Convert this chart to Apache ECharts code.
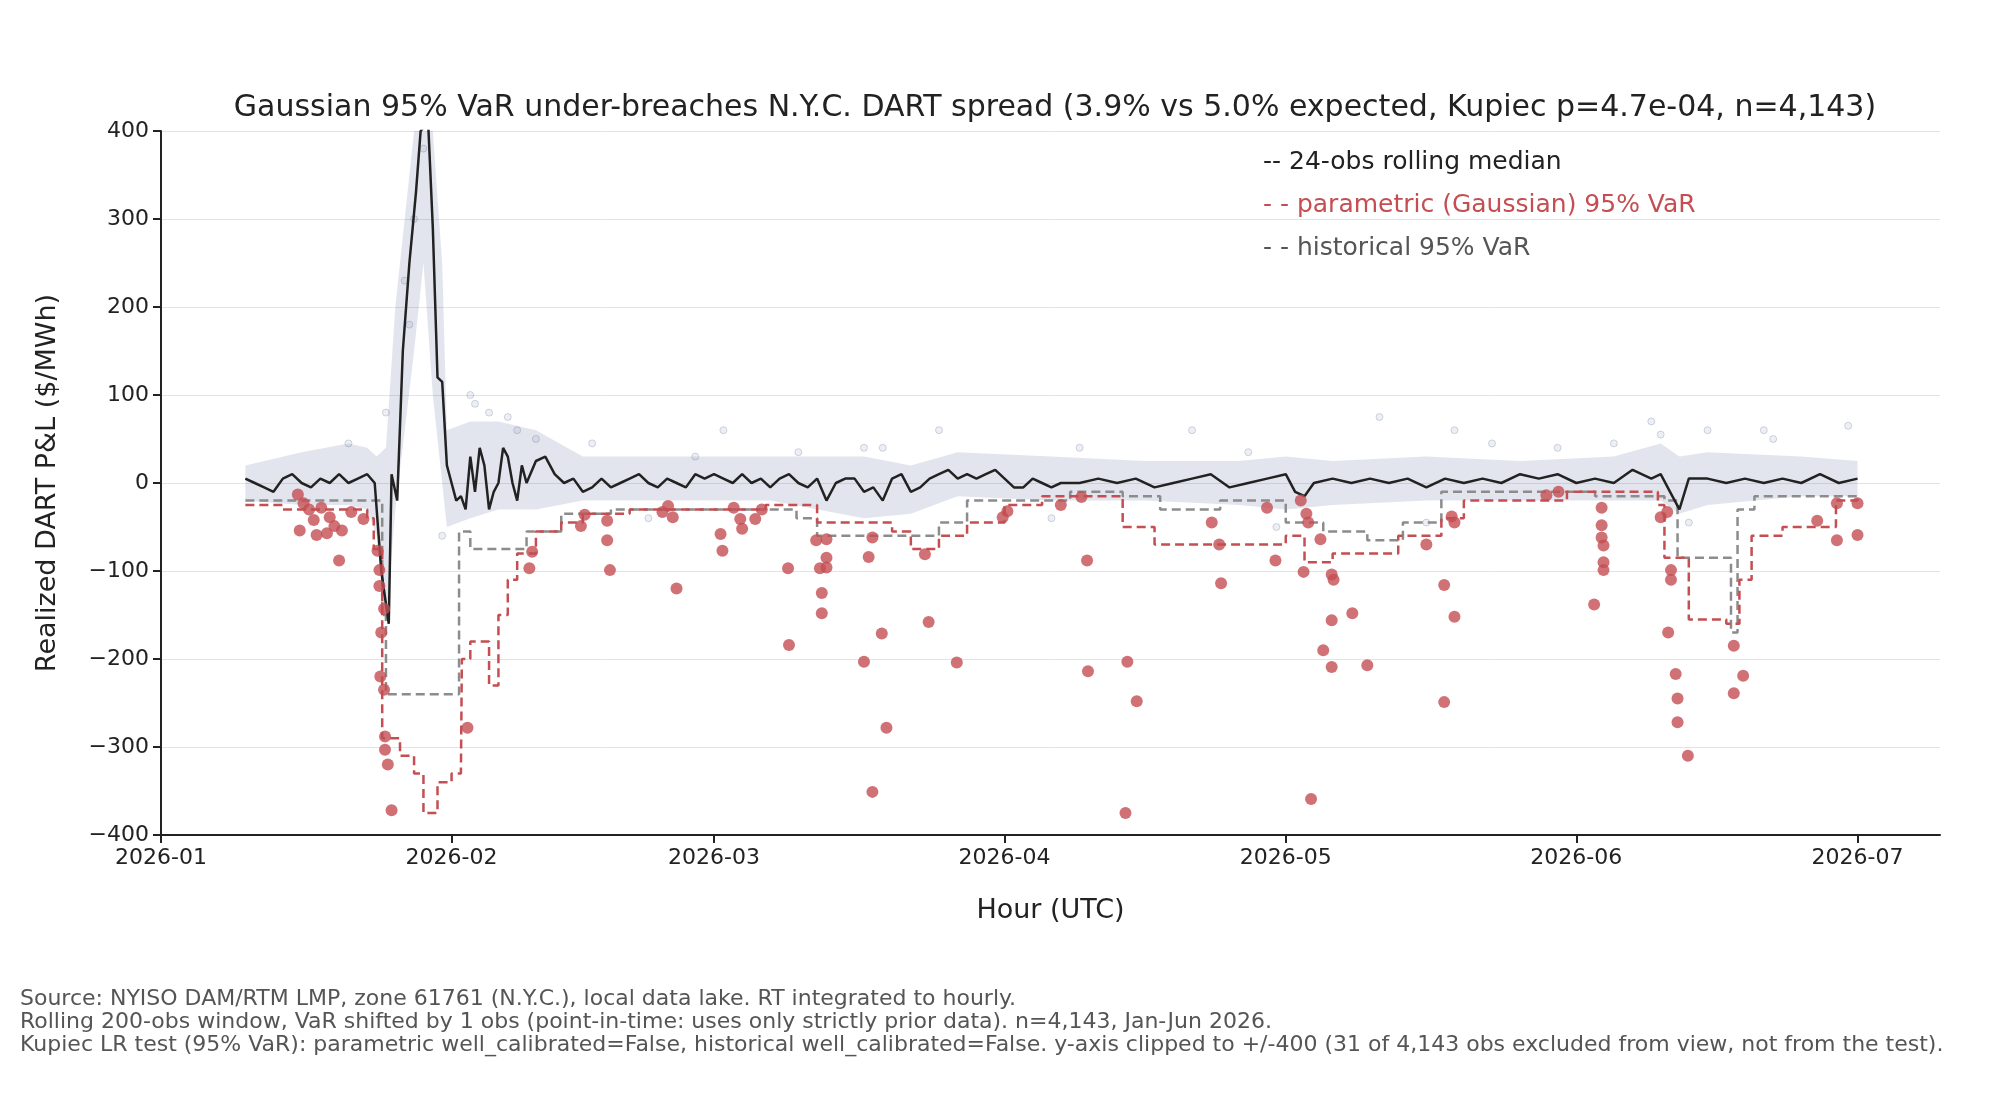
<!DOCTYPE html>
<html>
<head>
<meta charset="utf-8">
<script src="https://cdn.jsdelivr.net/npm/echarts@6/dist/echarts.min.js"></script>
<style>html,body{margin:0;padding:0;background:#fff}#main{width:2000px;height:1100px}</style>
</head>
<body>
<div id="main"></div>
<script>
// days since 2026-01-01 (UTC), values in $/MWh
var medianPts = [[9,5],[10,0],[11,-5],[12,-10],[13,5],[14,10],[15,0],[16,-5],[17,5],[18,0],[19,10],[20,0],[21,5],[22,10],[22.8,0],[23.5,-100],[24.3,-160],[24.6,10],[25.2,-20],[25.8,150],[26.5,250],[27.2,330],[27.7,400],[28.5,410],[29,290],[29.5,120],[30,115],[30.5,20],[31,0],[31.5,-20],[32,-15],[32.5,-30],[33,30],[33.5,-10],[34,40],[34.5,20],[35,-30],[35.5,-10],[36,0],[36.5,40],[37,30],[37.5,0],[38,-20],[38.5,20],[39,0],[40,25],[41,30],[42,10],[43,0],[44,5],[45,-10],[46,-5],[47,5],[48,-5],[49,0],[50,5],[51,10],[52,0],[53,-5],[54,5],[55,0],[56,-5],[57,10],[58,5],[59,10],[60,5],[61,0],[62,10],[63,0],[64,5],[65,-5],[66,5],[67,10],[68,0],[69,-5],[70,5],[71,-20],[72,0],[73,5],[74,5],[75,-10],[76,-5],[77,-20],[78,5],[79,10],[80,-10],[81,-5],[82,5],[83,10],[84,15],[85,5],[86,10],[87,5],[88,10],[89,15],[90,5],[91,-5],[92,-5],[93,5],[94,0],[95,-5],[96,0],[98,0],[100,5],[102,0],[104,5],[106,-5],[108,0],[110,5],[112,10],[114,-5],[116,0],[118,5],[120,10],[121,-10],[122,-15],[123,0],[125,5],[127,0],[129,5],[131,0],[133,5],[135,-5],[137,5],[139,0],[141,5],[143,0],[145,10],[147,5],[149,10],[151,0],[153,5],[155,0],[157,15],[159,5],[160,10],[161,-10],[162,-30],[163,5],[165,5],[167,0],[169,5],[171,0],[173,5],[175,0],[177,10],[179,0],[181,5]];

var paramVaR = [[9,-25],[13,-30],[22,-40],[22.7,-75],[23.6,-290],[25.5,-310],[27,-330],[28,-375],[29.5,-340],[31,-330],[32,-325],[32.1,-200],[33,-180],[35,-230],[36,-150],[37,-110],[38,-80],[40,-55],[42.7,-45],[45,-35],[50,-30],[64.5,-25],[70,-45],[78,-55],[80,-75],[83,-60],[86,-45],[90,-25],[94,-15],[102.6,-50],[106,-70],[120,-60],[122,-90],[125,-80],[132,-60],[136.6,-40],[139,-20],[150,-10],[159.7,-25],[160.4,-85],[163,-155],[167,-160],[168.4,-110],[169.7,-60],[173,-50],[178.7,-20],[181,-15]];

var histVaR = [[9,-20],[23.6,-150],[24,-240],[31.8,-55],[33,-75],[39,-55],[42.7,-35],[48,-30],[67.8,-40],[70,-60],[83,-45],[86,-20],[97,-10],[102.6,-15],[106.6,-30],[113,-20],[120,-45],[124,-55],[128.7,-65],[132.5,-45],[136.6,-10],[153,-15],[160.4,-20],[161.8,-85],[167.5,-170],[168.2,-30],[170,-15],[181,-15]];

var breaches = [[14.6,-13],[14.8,-54],[15.2,-23],[15.8,-30],[16.3,-42],[16.6,-59],[17.1,-28],[17.7,-57],[18,-39],[18.5,-49],[19,-88],[19.3,-54],[20.3,-33],[21.6,-41],[23.1,-77],[23.3,-99],[23.3,-117],[23.5,-170],[23.4,-220],[23.8,-235],[23.8,-143],[23.9,-288],[23.9,-303],[24.2,-320],[24.6,-372],[32.7,-278],[39.3,-97],[39.6,-78],[44.8,-49],[45.2,-36],[47.6,-43],[47.6,-65],[47.9,-99],[53.5,-33],[54.1,-26],[54.6,-39],[55,-120],[59.7,-58],[59.9,-77],[61.1,-28],[61.8,-41],[62,-52],[63.4,-41],[64.1,-30],[66.9,-97],[67,-184],[69.9,-65],[70.3,-97],[70.5,-125],[70.5,-148],[71,-85],[71,-96],[71,-64],[75,-203],[75.5,-84],[75.9,-351],[75.9,-62],[76.9,-171],[77.4,-278],[81.5,-81],[81.9,-158],[84.9,-204],[89.8,-39],[90.3,-32],[96,-25],[98.2,-16],[98.8,-88],[98.9,-214],[102.9,-375],[103.1,-203],[104.1,-248],[112.1,-45],[112.9,-70],[113.1,-114],[118,-28],[118.9,-88],[121.6,-20],[121.9,-101],[122.2,-35],[122.4,-45],[122.7,-359],[123.7,-64],[124,-190],[124.9,-104],[125.1,-110],[124.9,-156],[124.9,-209],[127.1,-148],[128.7,-207],[135,-70],[136.9,-116],[136.9,-249],[137.7,-38],[138,-45],[138,-152],[147.8,-14],[149.1,-10],[152.9,-138],[153.7,-28],[153.7,-48],[153.7,-62],[153.9,-71],[153.9,-90],[153.9,-99],[160,-39],[160.7,-33],[160.8,-170],[161.1,-99],[161.1,-110],[161.6,-217],[161.8,-245],[161.8,-272],[162.9,-310],[167.8,-185],[167.8,-239],[168.8,-219],[176.7,-43],[178.8,-23],[178.8,-65],[181,-23],[181,-59]];

// spread of the hourly observations (upper / lower envelope)
var cloudDays = [9,15,20,22,23,24,25,26,27,28,29,30,30.5,33,36,40,45,55,65,75,80,85,95,105,115,120,125,135,145,155,160,162,165,175,181];
var cloudHi = [20,35,45,40,30,40,200,300,400,400,400,250,60,70,70,60,30,30,30,30,20,35,30,25,25,30,25,30,25,30,45,30,35,30,25];
var cloudLo = [-20,-25,-25,-30,-60,-160,-30,60,150,250,100,0,-50,-40,-30,-30,-20,-20,-20,-40,-35,-15,-20,-20,-25,-30,-25,-20,-20,-20,-20,-35,-25,-15,-15];
var outliers = [[26.5,180],[27,300],[28,380],[26,230],[30,-60],[33,100],[33.5,90],[35,80],[38,60],[37,75],[46,45],[60,60],[68,35],[75,40],[83,60],[110,60],[130,75],[138,60],[155,45],[159,70],[165,60],[171,60],[180,65],[52,-40],[95,-40],[119,-50],[135,-45],[20,45],[24,80],[40,50],[57,30],[77,40],[98,40],[116,35],[142,45],[149,40],[160,55],[163,-45],[172,50]];

var monthDays = [0,31,59,90,120,151,181];
var monthLabels = ['2026-01','2026-02','2026-03','2026-04','2026-05','2026-06','2026-07'];

var font = 'DejaVu Sans';

var chart = echarts.init(document.getElementById('main'));
var option = {
  animation:false,
  textStyle:{fontFamily:font},
  title:{text:'Gaussian 95% VaR under-breaches N.Y.C. DART spread (3.9% vs 5.0% expected, Kupiec p=4.7e-04, n=4,143)',
    left:1050,top:88,textAlign:'center',textStyle:{fontSize:30,fontWeight:'normal',color:'#222',fontFamily:font}},
  grid:{left:161,right:60,top:131,bottom:265},
  xAxis:{type:'value',min:0,max:189.8,
    name:'Hour (UTC)',nameLocation:'middle',nameGap:62,nameTextStyle:{fontSize:27,color:'#222'},
    axisLine:{onZero:false,lineStyle:{color:'#222',width:2}},
    axisTick:{length:8,lineStyle:{color:'#222',width:2},customValues:monthDays},
    axisLabel:{fontSize:22,color:'#222',margin:12,customValues:monthDays,
      formatter:function(v){var i=monthDays.indexOf(v);return i>=0?monthLabels[i]:'';}},
    splitLine:{show:false}},
  yAxis:{type:'value',min:-400,max:400,interval:100,
    name:'Realized DART P&L ($/MWh)',nameLocation:'middle',nameGap:100,nameTextStyle:{fontSize:27,color:'#222'},
    axisLine:{show:true,lineStyle:{color:'#222',width:2}},
    axisTick:{show:true,length:8,lineStyle:{color:'#222',width:2}},
    axisLabel:{fontSize:22,color:'#222',margin:12,formatter:function(v){return v<0?'\u2212'+(-v):''+v;}},
    splitLine:{lineStyle:{color:'#e3e3e3',width:1}}},
  series:[
    {type:'custom',silent:true,data:[0],clip:true,
      renderItem:function(params,api){
        var pts=[];
        for(var i=0;i<cloudDays.length;i++)pts.push(api.coord([cloudDays[i],cloudHi[i]]));
        for(var j=cloudDays.length-1;j>=0;j--)pts.push(api.coord([cloudDays[j],cloudLo[j]]));
        return {type:'polygon',shape:{points:pts},style:{fill:'rgba(76,96,140,0.16)'}};
      }},
    {type:'scatter',data:outliers,symbolSize:7,itemStyle:{color:'rgba(76,96,140,0.12)',borderColor:'rgba(76,96,140,0.3)'}},
    {type:'line',data:histVaR,step:'end',symbol:'none',lineStyle:{color:'#8c8c8c',width:2.5,type:[9,5]}},
    {type:'line',data:paramVaR,step:'end',symbol:'none',lineStyle:{color:'#c44e52',width:2.5,type:[9,5]}},
    {type:'line',data:medianPts,symbol:'none',clip:true,lineStyle:{color:'#222',width:2.5}},
    {type:'scatter',data:breaches,symbolSize:12,itemStyle:{color:'#c44e52'},z:5}
  ],
  graphic:[
    {type:'text',left:1263,top:150,style:{text:'-- 24-obs rolling median',fontSize:25,fill:'#222',fontFamily:font}},
    {type:'text',left:1263,top:193,style:{text:'- - parametric (Gaussian) 95% VaR',fontSize:25,fill:'#c44e52',fontFamily:font}},
    {type:'text',left:1263,top:236,style:{text:'- - historical 95% VaR',fontSize:25,fill:'#555',fontFamily:font}},
    {type:'text',left:20,top:988,style:{text:'Source: NYISO DAM/RTM LMP, zone 61761 (N.Y.C.), local data lake. RT integrated to hourly.\nRolling 200-obs window, VaR shifted by 1 obs (point-in-time: uses only strictly prior data). n=4,143, Jan-Jun 2026.\nKupiec LR test (95% VaR): parametric well_calibrated=False, historical well_calibrated=False. y-axis clipped to +/-400 (31 of 4,143 obs excluded from view, not from the test).',
      fontSize:22,lineHeight:23,fill:'#555',fontFamily:font}}
  ]
};
chart.setOption(option);
</script>
</body>
</html>
